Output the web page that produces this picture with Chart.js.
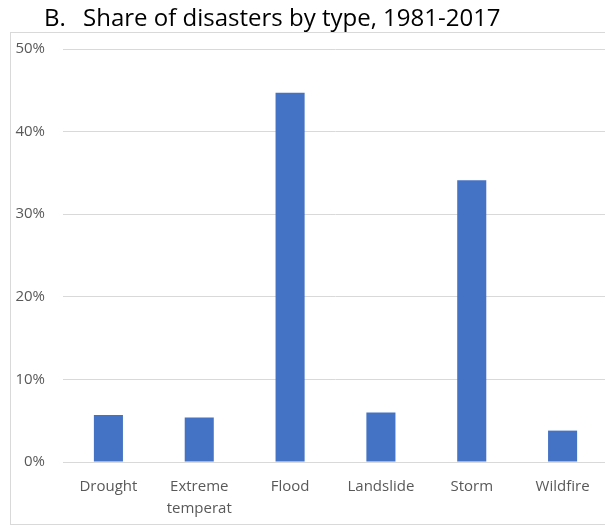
<!DOCTYPE html>
<html>
<head>
<meta charset="utf-8">
<script src="https://cdn.jsdelivr.net/npm/chart.js@4/dist/chart.umd.min.js"></script>
<style>
  html, body { margin: 0; padding: 0; background: #fff; overflow: hidden; }
  #wrap { position: relative; width: 620px; height: 527px; }
</style>
</head>
<body>
<div id="wrap"><canvas id="chart" width="620" height="527"></canvas></div>
<script>
// Disaster types and their share of all disasters, 1981-2017 (percent)
const categories = ['Drought', ['Extreme', 'temperat'], 'Flood', 'Landslide', 'Storm', 'Wildfire'];
const shares = [5.7, 5.4, 44.7, 6.0, 34.1, 3.8];
const titleLetter = 'B.';
const titleText = 'Share of disasters by type, 1981-2017';
const yMax = 50;
const yStep = 10;

const FONT = "'Open Sans', 'DejaVu Sans', sans-serif";

// Frame around the plot plus the heading above it
const framePlugin = {
  id: 'frame',
  beforeDraw(chart) {
    const ctx = chart.ctx;
    ctx.save();
    ctx.fillStyle = '#ffffff';
    ctx.fillRect(0, 0, chart.width, chart.height);
    ctx.strokeStyle = '#d9d9d9';
    ctx.lineWidth = 1;
    ctx.strokeRect(10.5, 32.5, chart.width, 492);
    ctx.fillStyle = '#000000';
    ctx.font = '24px ' + FONT;
    ctx.textBaseline = 'alphabetic';
    ctx.textAlign = 'left';
    ctx.fillText(titleLetter, 44, 26);
    ctx.fillText(titleText, 83, 26);
    ctx.restore();
  }
};

new Chart(document.getElementById('chart'), {
  type: 'bar',
  data: {
    labels: categories,
    datasets: [{
      data: shares,
      backgroundColor: '#4472c4',
      borderWidth: 0,
      barPercentage: 0.32,
      categoryPercentage: 1.0
    }]
  },
  options: {
    responsive: false,
    animation: false,
    devicePixelRatio: 1,
    layout: { padding: { top: 49, left: 0, right: 12, bottom: 0 } },
    plugins: {
      legend: { display: false },
      title: { display: false },
      tooltip: { enabled: false }
    },
    scales: {
      x: {
        grid: { display: false, drawTicks: false },
        border: { display: true, color: '#d9d9d9', width: 1 },
        ticks: {
          color: '#595959',
          font: { family: FONT, size: 15, lineHeight: 1.45 },
          padding: 14,
          maxRotation: 0,
          autoSkip: false
        },
        afterFit(scale) { scale.height = 65; }
      },
      y: {
        min: 0,
        max: yMax,
        grid: { color: '#d9d9d9', lineWidth: 1, drawTicks: false },
        border: { display: false },
        ticks: {
          stepSize: yStep,
          color: '#595959',
          font: { family: FONT, size: 15 },
          padding: 18,
          callback: v => v + '%'
        },
        afterFit(scale) { scale.width = 63; }
      }
    }
  },
  plugins: [framePlugin]
});
</script>
</body>
</html>
